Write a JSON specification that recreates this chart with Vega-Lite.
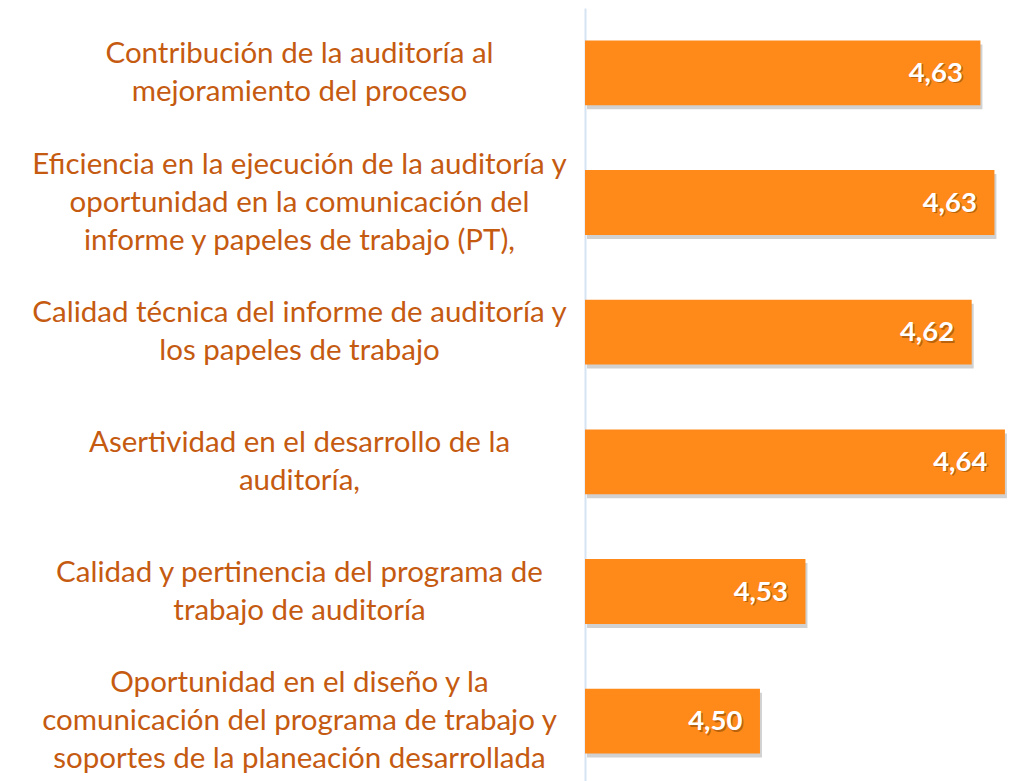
{
  "$schema": "https://vega.github.io/schema/vega-lite/v6.json",
  "autosize": {"type": "none"},
  "width": 425,
  "height": 778,
  "padding": {"left": 585, "top": 8, "right": 0, "bottom": 0},
  "background": "white",
  "config": {
    "view": {"stroke": null},
    "locale": {"number": {"decimal": ",", "thousands": ".", "grouping": [3], "currency": ["", " €"]}}
  },
  "data": {
    "values": [
      {"criterio": "Contribución de la auditoría al\nmejoramiento del proceso", "valor": 4.626},
      {"criterio": "Eficiencia en la ejecución de la auditoría y\noportunidad en la comunicación del\ninforme y papeles de trabajo (PT),", "valor": 4.634},
      {"criterio": "Calidad técnica del informe de auditoría y\nlos papeles de trabajo", "valor": 4.621},
      {"criterio": "Asertividad en el desarrollo de la\nauditoría,", "valor": 4.64},
      {"criterio": "Calidad y pertinencia del programa de\ntrabajo de auditoría", "valor": 4.526},
      {"criterio": "Oportunidad en el diseño y la\ncomunicación del programa de trabajo y\nsoportes de la planeación desarrollada", "valor": 4.5}
    ]
  },
  "encoding": {
    "y": {
      "field": "criterio",
      "type": "nominal",
      "sort": null,
      "scale": {"paddingInner": 0.5, "paddingOuter": 0.25},
      "axis": {
        "title": null,
        "ticks": false,
        "tickSize": 0,
        "domain": true,
        "domainColor": "#D6E3F3",
        "domainWidth": 2,
        "labelExpr": "split(datum.label, '\\n')",
        "labelAlign": "center",
        "labelBaseline": "middle",
        "labelOffset": {"condition": {"test": "length(split(datum.label, '\\n')) == 3", "value": -38}, "value": -19},
        "labelPadding": 286,
        "labelLimit": 0,
        "labelFont": "Lato",
        "labelFontSize": 29.5,
        "labelLineHeight": 38,
        "labelColor": "#C55A11"
      }
    },
    "x": {
      "field": "valor",
      "type": "quantitative",
      "scale": {"domain": [4.4, 4.6429], "nice": false, "zero": false},
      "axis": null
    }
  },
  "layer": [
    {
      "mark": {"type": "bar", "color": "#000000", "opacity": 0.18, "xOffset": 2, "yOffset": 4, "x2Offset": 2, "y2Offset": 4, "clip": false},
      "encoding": {"x2": {"datum": 4.4}}
    },
    {
      "mark": {"type": "bar", "color": "#FF8A19"},
      "encoding": {"x2": {"datum": 4.4}}
    },
    {
      "mark": {"type": "text", "align": "right", "baseline": "middle", "dx": -16, "dy": 2.5, "font": "Lato", "fontSize": 27.5, "fontWeight": "bold", "color": "#7A3E00", "opacity": 0.5},
      "encoding": {"text": {"field": "valor", "type": "quantitative", "format": ".2f"}}
    },
    {
      "mark": {"type": "text", "align": "right", "baseline": "middle", "dx": -17.5, "dy": 1, "font": "Lato", "fontSize": 27.5, "fontWeight": "bold", "color": "#FFFFFF"},
      "encoding": {"text": {"field": "valor", "type": "quantitative", "format": ".2f"}}
    }
  ]
}
